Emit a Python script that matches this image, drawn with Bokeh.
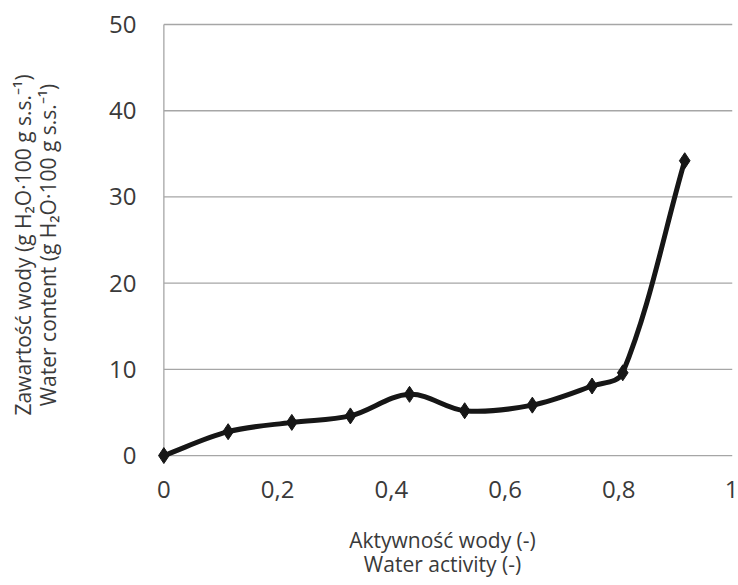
import math
from bokeh.plotting import figure
from bokeh.models import Range1d, FixedTicker, CustomJSTickFormatter
from bokeh.embed import file_html
from bokeh.resources import INLINE

# data
water_activity = [0.0, 0.113, 0.225, 0.328, 0.432, 0.529, 0.648, 0.753, 0.807, 0.916]
water_content = [0.0, 2.77, 3.85, 4.6, 7.1, 5.2, 5.85, 8.07, 9.6, 34.2]
x_ticks = [0, 0.2, 0.4, 0.6, 0.8, 1.0]
y_ticks = [0, 10, 20, 30, 40, 50]
x_title = "Aktywność wody (-)\nWater activity (-)"
y_title = ("Zawartość wody (g H\u2082O\u00b7100 g s.s.\u207b\u00b9)\n"
           "Water content (g H\u2082O\u00b7100 g s.s.\u207b\u00b9)")

FONT = "Open Sans"
TXT = "#3a3a3a"
GRID = "#a6a6a6"
INK = "#161616"

p = figure(width=738, height=585, output_backend="svg", toolbar_location=None,
           x_range=Range1d(-0.02, 1.0), y_range=Range1d(-1.5, 50.35),
           min_border_left=152, min_border_right=6, min_border_top=21, min_border_bottom=117)
p.outline_line_color = None
p.xgrid.grid_line_color = None
p.ygrid.grid_line_color = None

# grid lines and y axis line drawn at the tick values
p.segment(x0=[x_ticks[0]] * len(y_ticks), y0=y_ticks, x1=[x_ticks[-1]] * len(y_ticks), y1=y_ticks,
          line_color=GRID, line_width=1.3)
p.segment(x0=[x_ticks[0]], y0=[y_ticks[0]], x1=[x_ticks[0]], y1=[y_ticks[-1]],
          line_color=GRID, line_width=1.3)

p.xaxis.ticker = FixedTicker(ticks=x_ticks)
p.yaxis.ticker = FixedTicker(ticks=y_ticks)
fmt = CustomJSTickFormatter(code="return (Math.round(tick*10)/10).toString().replace('.', ',');")
p.xaxis.formatter = fmt
p.yaxis.formatter = fmt
for ax in (p.xaxis, p.yaxis):
    ax.axis_line_color = None
    ax.major_tick_line_color = None
    ax.minor_tick_line_color = None
    ax.major_label_text_font = FONT
    ax.major_label_text_font_size = "24px"
    ax.major_label_text_color = TXT
    ax.axis_label_text_font = FONT
    ax.axis_label_text_font_size = "21px"
    ax.axis_label_text_font_style = "normal"
    ax.axis_label_text_color = TXT
    ax.axis_label_text_line_height = 0.88
p.xaxis.major_label_standoff = 6
p.yaxis.major_label_standoff = 10
p.xaxis.axis_label = x_title
p.yaxis.axis_label = y_title
p.xaxis.axis_label_standoff = 25
p.yaxis.axis_label_standoff = 44

# smoothed line: Bezier segments, tangent from neighbours, handle = 1/3 of segment (pixel space)
SX, SY = 568.6, 8.62
n = len(water_activity)
px = [v * SX for v in water_activity]
py = [v * SY for v in water_content]

def tangent(i):
    a = max(i - 1, 0)
    b = min(i + 1, n - 1)
    dx, dy = px[b] - px[a], py[b] - py[a]
    L = math.hypot(dx, dy) or 1.0
    return dx / L, dy / L

x0s, y0s, x1s, y1s, cx0s, cy0s, cx1s, cy1s = [], [], [], [], [], [], [], []
for i in range(n - 1):
    seg = math.hypot(px[i + 1] - px[i], py[i + 1] - py[i])
    h = seg / 3.0
    ta, tb = tangent(i), tangent(i + 1)
    x0s.append(water_activity[i]); y0s.append(water_content[i])
    x1s.append(water_activity[i + 1]); y1s.append(water_content[i + 1])
    cx0s.append((px[i] + ta[0] * h) / SX); cy0s.append((py[i] + ta[1] * h) / SY)
    cx1s.append((px[i + 1] - tb[0] * h) / SX); cy1s.append((py[i + 1] - tb[1] * h) / SY)
p.bezier(x0=x0s, y0=y0s, x1=x1s, y1=y1s, cx0=cx0s, cy0=cy0s, cx1=cx1s, cy1=cy1s,
         line_color=INK, line_width=5)
p.scatter(water_activity, water_content, marker="diamond", size=16,
          fill_color=INK, line_color=INK)

open("out.html", "w").write(file_html(p, INLINE))
